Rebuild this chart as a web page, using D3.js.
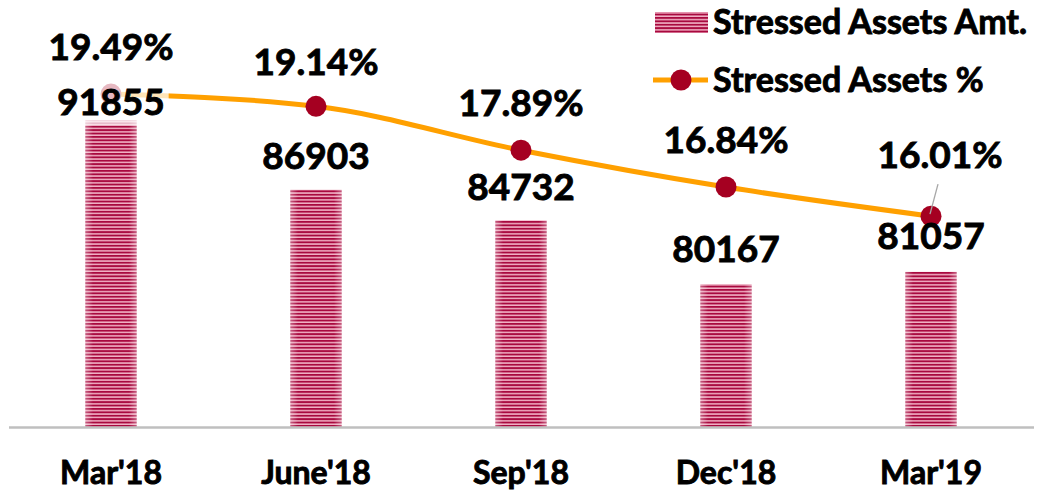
<!DOCTYPE html>
<html><head><meta charset="utf-8">
<script src="https://cdn.jsdelivr.net/npm/d3@7"></script>
<style>
html,body{margin:0;padding:0;background:#fff;}
svg text{font-family:Lato,"Open Sans",sans-serif;font-weight:700;fill:#000;stroke:#000;stroke-width:0.9px;}
</style></head>
<body>
<svg id="chart" width="1038" height="493"></svg>
<script>
const categories = ["Mar'18","June'18","Sep'18","Dec'18","Mar'19"];
const amounts = [91855, 86903, 84732, 80167, 81057];
const percents = [19.49, 19.14, 17.89, 16.84, 16.01];
const percentLabels = ["19.49%","19.14%","17.89%","16.84%","16.01%"];
const legendLabels = ["Stressed Assets Amt.","Stressed Assets %"];

const svg = d3.select("#chart");
const plot = {left: 8.5, right: 1033.5, top: 6, bottom: 427};

const x = d3.scaleBand().domain(categories).range([plot.left, plot.right]).paddingInner(0.75).paddingOuter(0.375);
const yAmt = d3.scaleLinear().domain([70000, 100000]).range([plot.bottom, plot.top]);
const yPct = d3.scaleLinear().domain([10, 22]).range([plot.bottom, plot.top]);

const defs = svg.append("defs");
const pat = defs.append("pattern").attr("id","stripes").attr("patternUnits","userSpaceOnUse")
  .attr("width",10).attr("height",3.4);
pat.append("rect").attr("width",10).attr("height",3.4).attr("fill","#f2b3c6");
pat.append("rect").attr("y",0).attr("width",10).attr("height",1.9).attr("fill","#a8093f");
const grad = defs.append("linearGradient").attr("id","edge").attr("x1","0").attr("x2","1");
grad.append("stop").attr("offset","0").attr("stop-color","#fff").attr("stop-opacity",0.35);
grad.append("stop").attr("offset","0.15").attr("stop-color","#fff").attr("stop-opacity",0);
grad.append("stop").attr("offset","0.85").attr("stop-color","#fff").attr("stop-opacity",0);
grad.append("stop").attr("offset","1").attr("stop-color","#fff").attr("stop-opacity",0.35);

// bars
const bars = svg.append("g");
bars.selectAll("rect.bar").data(amounts).join("rect").attr("class","bar")
  .attr("x",(d,i)=>x(categories[i])).attr("width",x.bandwidth())
  .attr("y",d=>yAmt(d)).attr("height",d=>plot.bottom-yAmt(d)).attr("fill","url(#stripes)");
bars.selectAll("rect.sh").data(amounts).join("rect").attr("class","sh")
  .attr("x",(d,i)=>x(categories[i])).attr("width",x.bandwidth())
  .attr("y",d=>yAmt(d)).attr("height",d=>plot.bottom-yAmt(d)).attr("fill","url(#edge)");

// axis
const xAxis = svg.append("g").attr("transform",`translate(0,${plot.bottom})`)
  .call(d3.axisBottom(x).tickSize(0).tickPadding(34));
xAxis.select(".domain").attr("stroke","#bfbfbf").attr("stroke-width",2.5);
xAxis.selectAll("text").attr("font-size",32).style("font-family","Lato").style("font-weight",700)
  .attr("fill","#000").style("stroke","#000").style("stroke-width","0.9px");

// line
const cx = (i)=>x(categories[i])+x.bandwidth()/2;
const line = d3.line().x((d,i)=>cx(i)).y(d=>yPct(d)).curve(d3.curveMonotoneX);
svg.append("path").datum(percents).attr("d",line).attr("fill","none")
  .attr("stroke","#ffa000").attr("stroke-width",5);
svg.selectAll("circle.m").data(percents).join("circle").attr("class","m")
  .attr("cx",(d,i)=>cx(i)).attr("cy",d=>yPct(d)).attr("r",10.5).attr("fill","#a50021");

// amount labels (with semi-transparent background)
const amtOffsets = [-5, -21, -20, -22, -23];
const amtG = svg.append("g");
amounts.forEach((v,i)=>{
  const t = amtG.append("text").attr("x",cx(i)).attr("y",yAmt(v)+amtOffsets[i])
    .attr("text-anchor","middle").attr("font-size",37).text(v);
  if(i===0){
    const bb = t.node().getBBox();
    amtG.insert("rect","text").attr("x",bb.x-4).attr("y",bb.y+4).attr("width",bb.width+8).attr("height",bb.height-2)
      .attr("fill","#fff").attr("fill-opacity",0.72).style("stroke","none");
  }
});
// percent labels
const pctDx = [0,0,0,0,9];
const pctDy = [-34, -31, -34, -34, -48];
percents.forEach((v,i)=>{
  svg.append("text").attr("x",cx(i)+pctDx[i]).attr("y",yPct(v)+pctDy[i])
    .attr("text-anchor","middle").attr("font-size",37).text(percentLabels[i]);
});
// leader line for last
svg.append("line").attr("x1",cx(4)+7).attr("y1",yPct(percents[4])-32)
  .attr("x2",cx(4)-1).attr("y2",yPct(percents[4])-2).attr("stroke","#a6a6a6").attr("stroke-width",1.3);

// legend
const lg = svg.append("g");
lg.append("rect").attr("x",655).attr("y",12).attr("width",53).attr("height",21).attr("fill","url(#stripes)");
lg.append("text").attr("x",713).attr("y",34).attr("font-size",34).text(legendLabels[0]);
lg.append("line").attr("x1",653).attr("x2",708).attr("y1",80).attr("y2",80).attr("stroke","#ffa000").attr("stroke-width",5);
lg.append("circle").attr("cx",681).attr("cy",80).attr("r",10.5).attr("fill","#a50021");
lg.append("text").attr("x",713).attr("y",92).attr("font-size",34).text(legendLabels[1]);
</script>
</body></html>
